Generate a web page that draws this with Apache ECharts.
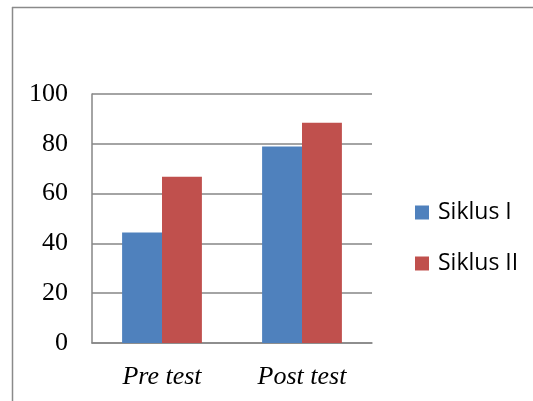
<!DOCTYPE html>
<html>
<head>
<meta charset="utf-8">
<style>
  html, body { margin: 0; padding: 0; background: #ffffff; overflow: hidden; }
  #chart { width: 533px; height: 401px; }
</style>
<script src="https://cdn.jsdelivr.net/npm/echarts@6/dist/echarts.min.js"></script>
</head>
<body>
<div id="chart"></div>
<script>
// Test phases on the x axis
const categories = ['Pre test', 'Post test'];
// Scores per cycle
const siklus1 = [44.4, 78.9];
const siklus2 = [66.8, 88.5];
// Value axis range
const yMin = 0;
const yMax = 100;
const yStep = 20;

const gridColor = '#868686';
const frameColor = '#8a8a8a';

const chart = echarts.init(document.getElementById('chart'), null, { renderer: 'canvas' });

chart.setOption({
  animation: false,
  backgroundColor: '#ffffff',
  graphic: [
    {
      // left edge of the chart frame
      type: 'line',
      shape: { x1: 12.5, y1: 7, x2: 12.5, y2: 401 },
      style: { stroke: frameColor, lineWidth: 1.5 },
      silent: true
    },
    {
      // top edge of the chart frame
      type: 'line',
      shape: { x1: 12, y1: 7.5, x2: 533, y2: 7.5 },
      style: { stroke: frameColor, lineWidth: 1.5 },
      silent: true
    }
  ],
  grid: { left: 92, right: 161, top: 94, bottom: 58, containLabel: false },
  legend: {
    orient: 'vertical',
    left: 415,
    top: 199,
    padding: 0,
    icon: 'rect',
    itemWidth: 14,
    itemHeight: 14,
    itemGap: 24,
    textStyle: {
      fontFamily: 'Open Sans',
      fontSize: 23,
      lineHeight: 24,
      color: '#000000',
      padding: [3, 0, 0, 4]
    },
    data: ['Siklus I', 'Siklus II']
  },
  xAxis: {
    type: 'category',
    data: categories,
    axisLine: { show: true, lineStyle: { color: gridColor, width: 1.5 } },
    axisTick: { show: false },
    axisLabel: {
      fontFamily: 'Liberation Serif',
      fontStyle: 'italic',
      fontSize: 26,
      color: '#000000',
      margin: 21
    }
  },
  yAxis: {
    type: 'value',
    min: yMin,
    max: yMax,
    interval: yStep,
    axisLine: { show: true, lineStyle: { color: gridColor, width: 1.5 } },
    axisTick: { show: false },
    splitLine: { show: true, lineStyle: { color: gridColor, width: 1.5 } },
    axisLabel: {
      fontFamily: 'Liberation Serif',
      fontSize: 26,
      color: '#000000',
      margin: 24
    }
  },
  series: [
    {
      name: 'Siklus I',
      type: 'bar',
      data: siklus1,
      barGap: '0%',
      barCategoryGap: '43%',
      itemStyle: { color: '#4f81bd' }
    },
    {
      name: 'Siklus II',
      type: 'bar',
      data: siklus2,
      barGap: '0%',
      barCategoryGap: '43%',
      itemStyle: { color: '#c0504d' }
    }
  ]
});
</script>
</body>
</html>
